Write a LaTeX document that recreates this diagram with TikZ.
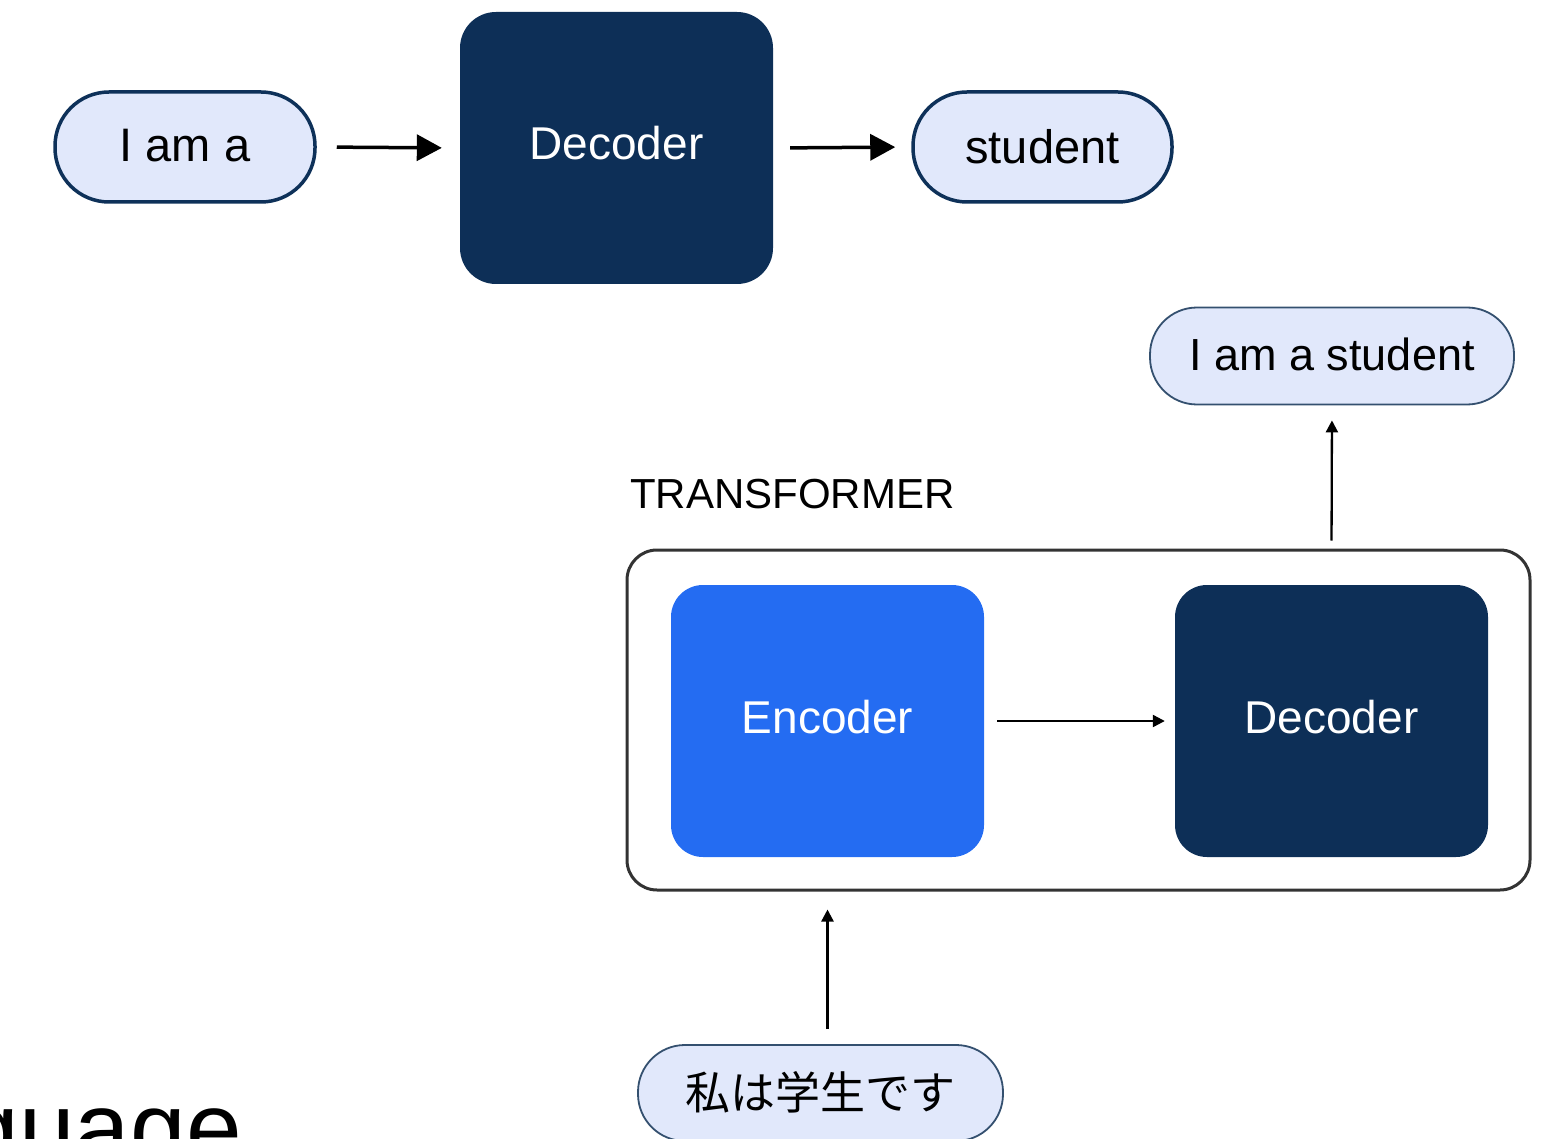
\documentclass[tikz,border=0pt]{standalone}
\usepackage{fontspec}
\setmainfont{Liberation Sans}
\newfontfamily\jpfont{Noto Sans CJK JP}
\usetikzlibrary{arrows.meta}

\definecolor{navy}{HTML}{0D2F57}
\definecolor{pillfill}{HTML}{E1E8FB}
\definecolor{pilledge}{HTML}{0E3159}
\definecolor{pilledgelight}{HTML}{34506F}
\definecolor{encblue}{HTML}{246CF2}
\definecolor{framegray}{HTML}{333333}

\begin{document}
\begin{tikzpicture}[x=1pt,y=-1pt,
  pill/.style={draw=pilledge, fill=pillfill, line width=3.5pt,
    rounded corners=54pt, inner sep=0pt, text=black,
    minimum width=260pt, minimum height=110pt,
    font=\fontsize{47}{56}\selectfont},
  thinpill/.style={pill, draw=pilledgelight, line width=1.8pt,
    rounded corners=47pt, minimum height=97pt, minimum width=364pt,
    font=\fontsize{45}{54}\selectfont},
  block/.style={rounded corners=36pt, inner sep=0pt,
    minimum width=313pt, minimum height=272pt, text=white,
    font=\fontsize{46}{55}\selectfont},
  bigarrow/.style={line width=3.5pt, -{Triangle[length=25pt,width=26pt]}},
  smallarrow/.style={line width=2.3pt, -{Triangle[length=12pt,width=12pt]}}
]
\useasboundingbox (0,0) rectangle (1552,1139);
\clip (0,0) rectangle (1552,1139);

% top row: decoder only
\node[pill] (iama) at (185,147) {\raisebox{3pt}{I am a}};
\node[block, fill=navy] (dec1) at (616.5,148) {\raisebox{10pt}{Decoder}};
\node[pill, minimum width=259pt] (student) at (1042.5,147) {student};
\draw[bigarrow, shorten <=20pt, shorten >=18pt] (iama.east) -- (dec1.west);
\draw[bigarrow, shorten <=17pt, shorten >=16pt] (dec1.east) -- (student.west);

% transformer: encoder + decoder
\node[anchor=base west, inner sep=0pt, font=\fontsize{42}{50}\selectfont]
  (tflabel) at (630,508) {TRANSFORMER};
\node[draw=framegray, line width=3pt, rounded corners=30pt,
  minimum width=903pt, minimum height=340pt] (tf) at (1078.5,720) {};
\node[block, fill=encblue, rounded corners=32pt] (enc) at (827.5,721)
  {\raisebox{9pt}{Encoder}};
\node[block, fill=navy, rounded corners=32pt] (dec2) at (1331.5,721)
  {\raisebox{9pt}{Decoder}};
\draw[smallarrow, shorten <=13pt, shorten >=10pt] (enc.east) -- (dec2.west);

% output and input sentences
\node[thinpill] (ias) at (1332,356) {\raisebox{3pt}{I am a student}};
\node[thinpill, minimum width=365pt, minimum height=96pt, rounded corners=47pt]
  (jp) at (820.5,1093) {\jpfont\raisebox{5pt}{私は学生です}};
\draw[smallarrow, shorten <=8pt, shorten >=15pt] (dec2 |- tf.north) -- (ias.south);
\draw[smallarrow, shorten <=15pt, shorten >=18pt] (enc |- jp.north) -- (enc |- tf.south);

% heading running off the lower left corner
\node[anchor=base east, inner sep=0pt, font=\fontsize{100}{120}\selectfont]
  (heading) at (242,1162) {Language};
\end{tikzpicture}
\end{document}
